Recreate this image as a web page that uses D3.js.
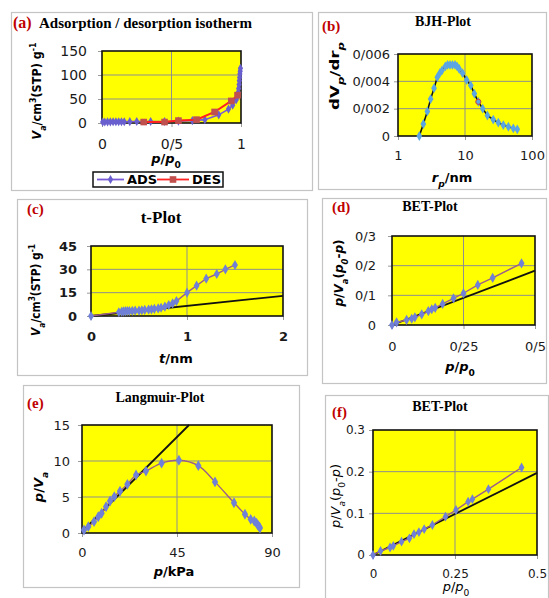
<!DOCTYPE html>
<html><head><meta charset="utf-8">
<script src="https://cdn.jsdelivr.net/npm/d3@7/dist/d3.min.js"></script>
<style>body{margin:0;background:#fff}svg{display:block}</style>
</head><body><svg id="c" width="549" height="598"></svg>
<script>
// ---------- DATA ----------
// (a) adsorption / desorption isotherm
const ADS_P = [0.005,0.02,0.04,0.06,0.08,0.10,0.12,0.14,0.16,0.20,0.25,0.35,0.45,0.55,0.65,0.74,0.84,0.91,0.94,0.965,0.975,0.98,0.983,0.986,0.988,0.99,0.992,0.994,0.996];
const ADS_V = [2,2.2,2.3,2.4,2.5,2.5,2.6,2.6,2.7,2.8,3,3,3.2,3.8,5,7,17,29,37,48,56,64,72,80,88,95,102,108,114];
const DES_P = [0.975,0.93,0.81,0.68,0.55,0.45,0.30];
const DES_V = [58,46,23,7,5,2,2];
const A_XTICKS = [0,0.5,1], A_XLABELS = ["0","0/5","1"];
const A_YTICKS = [0,50,100,150], A_YLABELS = ["0","50","100","150"];
const LEGEND_NAMES = ["ADS","DES"];
// (b) BJH plot
const BJH_R  = [2.08,2.39,2.74,3.07,3.45,3.86,4.2,4.54,5.09,5.5,5.97,6.5,7.1,7.6,8.2,9.2,10.6,12.2,13.8,15.8,18.4,21.6,26.4,31.4,37.3,44.4,52.6,60.3];
const BJH_DV = [0,0.00088,0.0018,0.0027,0.0035,0.0043,0.0046,0.0048,0.0051,0.0052,0.0052,0.0052,0.0052,0.0051,0.0049,0.0046,0.0041,0.0037,0.0031,0.0025,0.002,0.0015,0.0012,0.00098,0.0008,0.00068,0.00056,0.00049];
const BJH_MARK_R = [15.8], BJH_MARK_DV = [0.0025];
const B_XTICKS = [1,10,100], B_XLABELS = ["1","10","100"];
const B_YTICKS = [0,0.002,0.004,0.006], B_YLABELS = ["0","0/002","0/004","0/006"];
// (c) t-plot
const T_NM = [0,0.29,0.32,0.34,0.36,0.38,0.40,0.43,0.46,0.50,0.53,0.56,0.60,0.63,0.66,0.70,0.73,0.77,0.81,0.85,0.89,1.0,1.1,1.2,1.31,1.4,1.5];
const T_VA = [0,2.4,2.8,3.0,3.1,3.2,3.2,3.3,3.4,3.5,3.7,3.9,4.1,4.3,4.6,4.9,5.3,6.0,7.0,8.1,9.6,15,19.5,24,27,30,32.8];
const T_FIT_T = [0,2], T_FIT_V = [0,13];
const C_XTICKS = [0,1,2], C_XLABELS = ["0","1","2"];
const C_YTICKS = [0,15,30,45], C_YLABELS = ["0","15","30","45"];
// (d) BET plot
const BETD_P = [0,0.016,0.051,0.069,0.08,0.104,0.127,0.139,0.151,0.177,0.215,0.25,0.30,0.352,0.453];
const BETD_Y = [0,0.009,0.017,0.021,0.026,0.036,0.047,0.053,0.058,0.071,0.09,0.107,0.135,0.159,0.208];
const BETD_FIT_P = [0,0.5], BETD_FIT_Y = [0,0.183];
const D_XTICKS = [0,0.25,0.5], D_XLABELS = ["0","0/25","0/5"];
const D_YTICKS = [0,0.1,0.2,0.3], D_YLABELS = ["0","0/1","0/2","0/3"];
// (e) Langmuir plot
const LANG_P = [0.95,3.0,5.7,7.7,9.3,11.4,13.3,15.3,18,21.5,25.6,30.3,37.7,45.9,55.1,63,72,77.2,79.9,81.6,82.7,83.5,84.0,84.3];
const LANG_Y = [0.42,0.88,1.57,2.26,2.74,3.65,4.44,5.05,5.8,6.76,8.06,8.6,9.7,10.1,9.35,7.1,4.2,2.6,1.9,1.67,1.35,1.0,0.85,0.7];
const LANG_FIT_P = [0,50.7], LANG_FIT_Y = [0.2,15];
const E_XTICKS = [0,45,90], E_XLABELS = ["0","45","90"];
const E_YTICKS = [0,5,10,15], E_YLABELS = ["0","5","10","15"];
// (f) BET plot
const BETF_P = [0,0.023,0.052,0.062,0.087,0.111,0.125,0.14,0.156,0.181,0.221,0.253,0.29,0.303,0.352,0.453];
const BETF_Y = [0,0.0096,0.018,0.022,0.032,0.04,0.05,0.055,0.062,0.072,0.092,0.108,0.128,0.134,0.158,0.21];
const BETF_FIT_P = [0,0.5], BETF_FIT_Y = [0,0.197];
const F_XTICKS = [0,0.25,0.5], F_XLABELS = ["0","0.25","0.5"];
const F_YTICKS = [0,0.1,0.2,0.3], F_YLABELS = ["0","0.1","0.2","0.3"];

// ---------- DRAWING ----------
const svg = d3.select("#c");
svg.append("rect").attr("width",549).attr("height",598).attr("fill","#fff");
const SANS = "DejaVu Sans, sans-serif", SERIF = "Liberation Serif, Times New Roman, serif";
let clipId = 0;

function rich(g, x, y, parts, o) {
  const t = g.append("text").attr("x", x).attr("y", y)
    .attr("font-family", o.family || SANS).attr("font-size", o.size)
    .attr("font-weight", o.weight || "normal").attr("fill", o.fill || "#000")
    .attr("text-anchor", o.anchor || "middle");
  if (o.rotate) t.attr("transform", `rotate(-90,${x},${y})`);
  if (o.length) t.attr("textLength", o.length).attr("lengthAdjust", "spacingAndGlyphs");
  parts.forEach(p => {
    const s = t.append("tspan").text(p[0]);
    const f = p[1] || {};
    if (f.i) s.attr("font-style", "italic");
    if (f.sub) s.attr("baseline-shift", "sub").attr("font-size", o.size * 0.7);
    if (f.sup) s.attr("baseline-shift", "super").attr("font-size", o.size * 0.7);
  });
  return t;
}

function panel(c) {
  const g = svg.append("g");
  const [bx0, by0, bx1, by1] = c.box;
  g.append("rect").attr("x", bx0 + 0.5).attr("y", by0 + 0.5).attr("width", bx1 - bx0).attr("height", by1 - by0)
    .attr("fill", "none").attr("stroke", "#c4c4c4").attr("stroke-width", 1.2);
  const [px0, py0, px1, py1] = c.plot;
  const x = (c.log ? d3.scaleLog() : d3.scaleLinear()).domain(c.xDomain).range([px0, px1]);
  const y = d3.scaleLinear().domain(c.yDomain).range([py1, py0]);
  g.append("rect").attr("x", px0).attr("y", py0).attr("width", px1 - px0).attr("height", py1 - py0).attr("fill", "#ffff00");
  c.xTicks.slice(1, -1).forEach(v => g.append("line").attr("x1", x(v)).attr("x2", x(v)).attr("y1", py0).attr("y2", py1)
    .attr("stroke", "#8f8f8f").attr("stroke-width", 1));
  c.yTicks.slice(1, -1).forEach(v => g.append("line").attr("y1", y(v)).attr("y2", y(v)).attr("x1", px0).attr("x2", px1)
    .attr("stroke", "#8f8f8f").attr("stroke-width", 1));
  const xa = g.append("g").attr("transform", `translate(0,${py1})`)
    .call(d3.axisBottom(x).tickValues(c.xTicks).tickFormat((d, i) => c.xLabels[i]).tickSize(4).tickPadding(c.xPad));
  const ya = g.append("g").attr("transform", `translate(${px0},0)`)
    .call(d3.axisLeft(y).tickValues(c.yTicks).tickFormat((d, i) => c.yLabels[i]).tickSize(4).tickPadding(c.yPad));
  [xa, ya].forEach(a => {
    a.select(".domain").remove();
    a.selectAll(".tick line").attr("stroke", "#9a9a9a");
    a.selectAll(".tick text").attr("font-family", SANS).attr("font-size", c.tickSize)
      .attr("font-weight", c.tickWeight || "normal").attr("fill", "#1a1a1a");
  });
  g.append("rect").attr("x", px0).attr("y", py0).attr("width", px1 - px0).attr("height", py1 - py0)
    .attr("fill", "none").attr("stroke", "#111").attr("stroke-width", 1.6);
  const id = "clip" + (clipId++);
  g.append("clipPath").attr("id", id).append("rect").attr("x", px0 - 6).attr("y", py0 - 1).attr("width", px1 - px0 + 12).attr("height", py1 - py0 + 8);
  const data = g.append("g").attr("clip-path", `url(#${id})`);
  return { g, x, y, data };
}

function series(p, xs, ys, o) {
  const pts = xs.map((v, i) => [p.x(v), p.y(ys[i])]);
  if (o.line) p.data.append("path").attr("d", d3.line().curve(o.curve || d3.curveLinear)(pts))
    .attr("fill", "none").attr("stroke", o.line).attr("stroke-width", o.lw || 1.5);
  if (o.marker) p.data.selectAll(null).data(pts).enter().append("path")
    .attr("transform", d => `translate(${d[0]},${d[1]})`)
    .attr("d", d3.symbol().type(o.shape || d3.symbolDiamond).size(o.msize || 20))
    .attr("fill", o.marker).attr("stroke", o.mstroke || "none");
}

const PURPLE_LINE = "#9c5f8a", BLUE_MARK = "#6f80d6";

// ----- (a) -----
const pa = panel({ box: [11, 12, 312, 190], plot: [102, 51, 241, 123], xDomain: [0, 1], yDomain: [0, 150],
  xTicks: A_XTICKS, xLabels: A_XLABELS, yTicks: A_YTICKS, yLabels: A_YLABELS, xPad: 12, yPad: 11, tickSize: 14 });
series(pa, ADS_P, ADS_V, { line: "#7a5ad6", lw: 1.6, marker: "#6a5fcf", msize: 24 });
series(pa, DES_P, DES_V, { line: "#ff2222", lw: 2, marker: "#c0504d", shape: d3.symbolSquare, msize: 44 });
rich(pa.g, 13, 28, [["(a)"]], { family: SERIF, size: 16, weight: "bold", fill: "#c00000", anchor: "start" });
rich(pa.g, 39, 28, [["Adsorption / desorption isotherm"]], { family: SERIF, size: 15, weight: "bold", anchor: "start" });
rich(pa.g, 41, 91, [["V", { i: 1 }], ["a", { i: 1, sub: 1 }], ["/cm"], ["3", { sup: 1 }], ["(STP) g"], ["-1", { sup: 1 }]],
  { size: 13, weight: "bold", rotate: 1, length: 97 });
rich(pa.g, 166, 163, [["p", { i: 1 }], ["/"], ["p", { i: 1 }], ["0", { sub: 1 }]], { size: 13, weight: "bold" });
// legend
const lg = pa.g.append("g");
lg.append("rect").attr("x", 93).attr("y", 172).attr("width", 130).attr("height", 15).attr("fill", "#fff").attr("stroke", "#111").attr("stroke-width", 1.5);
const legendItems = [{ name: LEGEND_NAMES[0], x0: 97, x1: 124, line: "#7a5ad6", mark: "#6a5fcf", shape: d3.symbolDiamond, ms: 24, tx: 127 },
                     { name: LEGEND_NAMES[1], x0: 157, x1: 189, line: "#ff2222", mark: "#c0504d", shape: d3.symbolSquare, ms: 44, tx: 192 }];
legendItems.forEach(it => {
  lg.append("line").attr("x1", it.x0).attr("x2", it.x1).attr("y1", 179.5).attr("y2", 179.5).attr("stroke", it.line).attr("stroke-width", 1.8);
  lg.append("path").attr("transform", `translate(${(it.x0 + it.x1) / 2},179.5)`).attr("d", d3.symbol().type(it.shape).size(it.ms)).attr("fill", it.mark);
  rich(lg, it.tx, 184, [[it.name]], { size: 13, weight: "bold", anchor: "start" });
});

// ----- (b) -----
const pb = panel({ box: [318, 12, 546, 189], plot: [398, 54, 532, 136], log: true, xDomain: [1, 100], yDomain: [0, 0.006],
  xTicks: B_XTICKS, xLabels: B_XLABELS, yTicks: B_YTICKS, yLabels: B_YLABELS, xPad: 11, yPad: 4, tickSize: 13 });
series(pb, BJH_R, BJH_DV, { line: "#111", lw: 1.6, marker: "#5aa5e2", msize: 28 });
pb.data.selectAll(null).data(BJH_MARK_R).enter().append("circle")
  .attr("cx", (d) => pb.x(d)).attr("cy", (d, i) => pb.y(BJH_MARK_DV[i])).attr("r", 2.6)
  .attr("fill", "none").attr("stroke", "#d04040").attr("stroke-width", 1);
rich(pb.g, 322, 31, [["(b)"]], { family: SERIF, size: 15, weight: "bold", fill: "#c00000", anchor: "start" });
rich(pb.g, 443, 26, [["BJH-Plot"]], { family: SERIF, size: 14, weight: "bold" });
rich(pb.g, 339, 76, [["dV"], ["p", { i: 1, sub: 1 }], ["/dr"], ["p", { i: 1, sub: 1 }]], { size: 13, weight: "bold", rotate: 1, length: 68 });
rich(pb.g, 452, 182, [["r", { i: 1 }], ["p", { i: 1, sub: 1 }], ["/nm"]], { size: 13, weight: "bold" });

// ----- (c) -----
const pc = panel({ box: [17, 199, 307, 375], plot: [91, 246, 283, 316], xDomain: [0, 2], yDomain: [0, 45],
  xTicks: C_XTICKS, xLabels: C_XLABELS, yTicks: C_YTICKS, yLabels: C_YLABELS, xPad: 12, yPad: 10, tickSize: 13, tickWeight: "bold" });
series(pc, T_FIT_T, T_FIT_V, { line: "#111", lw: 1.8 });
series(pc, T_NM, T_VA, { line: PURPLE_LINE, lw: 1.4, marker: BLUE_MARK, msize: 30 });
rich(pc.g, 27, 214, [["(c)"]], { family: SERIF, size: 15, weight: "bold", fill: "#c00000", anchor: "start" });
rich(pc.g, 161, 223, [["t-Plot"]], { family: SERIF, size: 17, weight: "bold" });
rich(pc.g, 40, 290, [["V", { i: 1 }], ["a", { i: 1, sub: 1 }], ["/cm"], ["3", { sup: 1 }], ["(STP) g"], ["-1", { sup: 1 }]],
  { size: 13, weight: "bold", rotate: 1, length: 92 });
rich(pc.g, 176, 363, [["t", { i: 1 }], ["/nm"]], { size: 13, weight: "bold" });

// ----- (d) -----
const pd = panel({ box: [322, 198, 546, 383], plot: [392, 236, 535, 325], xDomain: [0, 0.5], yDomain: [0, 0.3],
  xTicks: D_XTICKS, xLabels: D_XLABELS, yTicks: D_YTICKS, yLabels: D_YLABELS, xPad: 13, yPad: 12, tickSize: 13 });
series(pd, BETD_FIT_P, BETD_FIT_Y, { line: "#111", lw: 1.8 });
series(pd, BETD_P, BETD_Y, { line: PURPLE_LINE, lw: 1.4, marker: BLUE_MARK, msize: 30 });
rich(pd.g, 332, 212, [["(d)"]], { family: SERIF, size: 15, weight: "bold", fill: "#c00000", anchor: "start" });
rich(pd.g, 430, 211, [["BET-Plot"]], { family: SERIF, size: 14, weight: "bold" });
rich(pd.g, 343, 273, [["p", { i: 1 }], ["/"], ["V", { i: 1 }], ["a", { i: 1, sub: 1 }], ["("], ["p", { i: 1 }], ["0", { i: 1, sub: 1 }], ["-"], ["p", { i: 1 }], [")"]],
  { size: 12, weight: "bold", rotate: 1, length: 67 });
rich(pd.g, 460, 371, [["p", { i: 1 }], ["/"], ["p", { i: 1 }], ["0", { sub: 1 }]], { size: 13, weight: "bold" });

// ----- (e) -----
const pe = panel({ box: [23, 385, 299, 587], plot: [82, 425, 272, 533], xDomain: [0, 90], yDomain: [0, 15],
  xTicks: E_XTICKS, xLabels: E_XLABELS, yTicks: E_YTICKS, yLabels: E_YLABELS, xPad: 11, yPad: 8, tickSize: 13 });
series(pe, LANG_FIT_P, LANG_FIT_Y, { line: "#111", lw: 1.8 });
series(pe, LANG_P, LANG_Y, { line: PURPLE_LINE, lw: 1.4, marker: BLUE_MARK, msize: 34, curve: d3.curveCatmullRom });
rich(pe.g, 27, 408, [["(e)"]], { family: SERIF, size: 15, weight: "bold", fill: "#c00000", anchor: "start" });
rich(pe.g, 160, 402, [["Langmuir-Plot"]], { family: SERIF, size: 14, weight: "bold" });
rich(pe.g, 43, 487, [["p", { i: 1 }], ["/"], ["V", { i: 1 }], ["a", { i: 1, sub: 1 }]], { size: 13, weight: "bold", rotate: 1 });
rich(pe.g, 174, 576, [["p", { i: 1 }], ["/kPa"]], { size: 13, weight: "bold" });

// ----- (f) -----
const pf = panel({ box: [325, 395, 548, 600], plot: [373, 430, 537, 555], xDomain: [0, 0.5], yDomain: [0, 0.3],
  xTicks: F_XTICKS, xLabels: F_XLABELS, yTicks: F_YTICKS, yLabels: F_YLABELS, xPad: 10, yPad: 4, tickSize: 12 });
series(pf, BETF_FIT_P, BETF_FIT_Y, { line: "#111", lw: 1.8 });
series(pf, BETF_P, BETF_Y, { line: PURPLE_LINE, lw: 1.4, marker: BLUE_MARK, msize: 28 });
rich(pf.g, 332, 417, [["(f)"]], { family: SERIF, size: 15, weight: "bold", fill: "#c00000", anchor: "start" });
rich(pf.g, 440, 411, [["BET-Plot"]], { family: SERIF, size: 14, weight: "bold" });
rich(pf.g, 340, 496, [["p", { i: 1 }], ["/"], ["V", { i: 1 }], ["a", { i: 1, sub: 1 }], ["("], ["p", { i: 1 }], ["0", { sub: 1 }], ["-"], ["p", { i: 1 }], [")"]],
  { size: 12, rotate: 1, length: 64 });
rich(pf.g, 456, 591, [["p", { i: 1 }], ["/"], ["p", { i: 1 }], ["0", { sub: 1 }]], { size: 13 });
</script></body></html>
